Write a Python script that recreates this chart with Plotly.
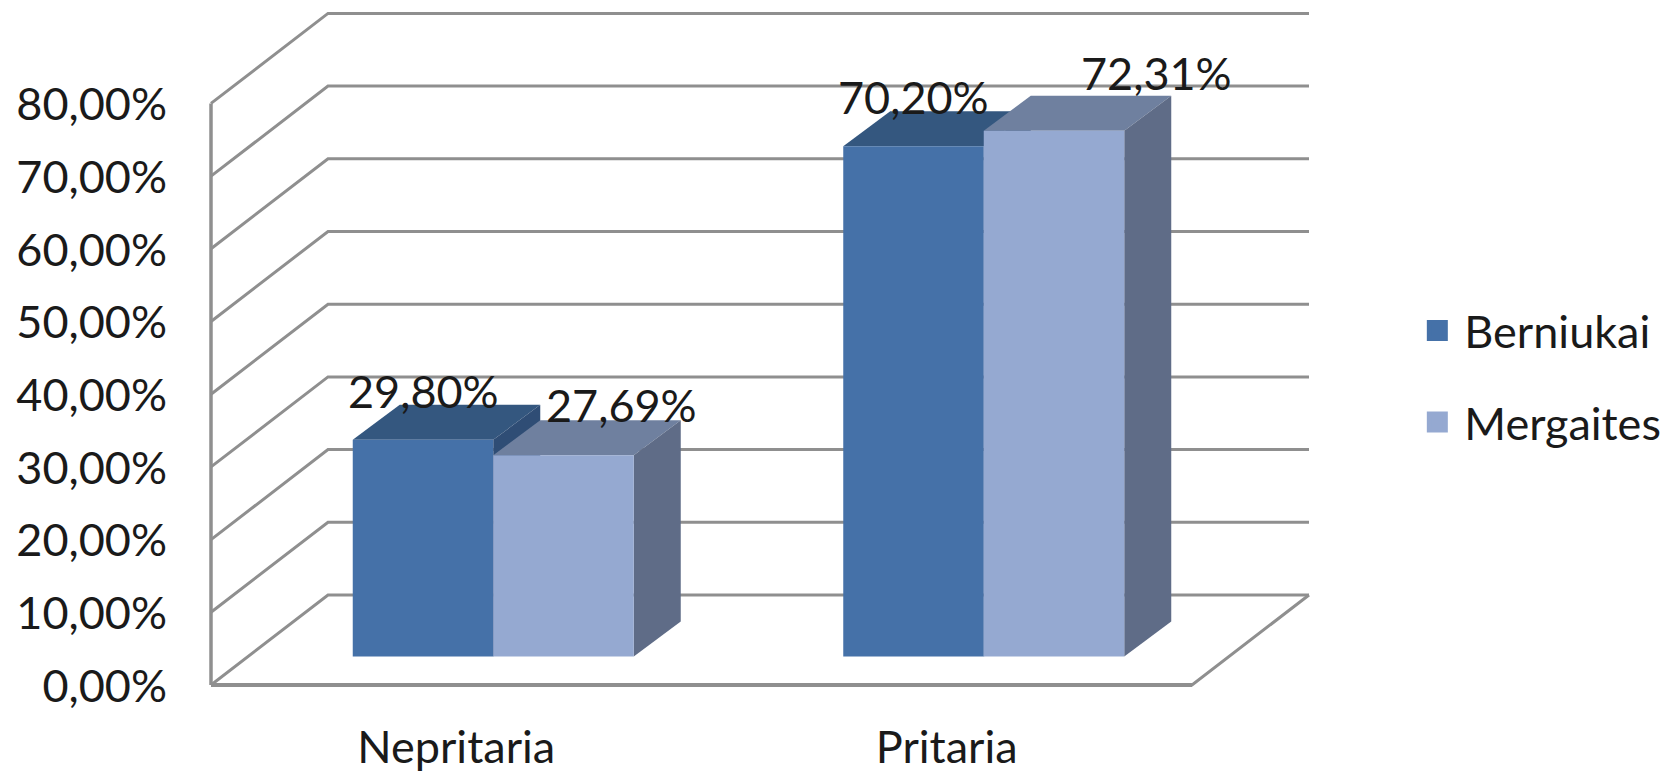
import plotly.graph_objects as go

categories = ["Nepritaria", "Pritaria"]
berniukai = [29.80, 70.20]
mergaites = [27.69, 72.31]
series_names = ["Berniukai", "Mergaites"]
axis_ticks = [0, 10, 20, 30, 40, 50, 60, 70, 80]
axis_labels = ["0,00%", "10,00%", "20,00%", "30,00%", "40,00%", "50,00%", "60,00%", "70,00%", "80,00%"]
labels_b = ["29,80%", "70,20%"]
labels_m = ["27,69%", "72,31%"]

W, H = 1672, 772
ORIGIN_X, ORIGIN_Y = 203, 677
PAD = 4
R, T = 1305, 2
CAT_PX = 490.5
PX_PER_PCT = 7.27
L, B = ORIGIN_X - PAD, ORIGIN_Y + PAD
X_MIN, X_MAX = -PAD / CAT_PX, (R - ORIGIN_X) / CAT_PX
Y_MIN, Y_MAX = -PAD / PX_PER_PCT, (ORIGIN_Y - T) / PX_PER_PCT
WALL_DX, WALL_DY = 117 / CAT_PX, 90 / PX_PER_PCT
WALL_END = 1098 / CAT_PX
BAR_DX, BAR_DY = 47 / CAT_PX, 35 / PX_PER_PCT
BAR_BASE = 28.5 / PX_PER_PCT
BAR_SHIFT = 37 / CAT_PX
BAR_W = 140.5 / CAT_PX
GRID = "#8f8f8f"
FONT = "Lato"
FS = 45
TEXT = "#1a1a1a"

front = ["#4571A8", "#95A9D1"]
top = ["#34577F", "#6F809F"]
side = ["#2F4D75", "#5F6C87"]
values = [berniukai, mergaites]
texts = [labels_b, labels_m]
label_dx = [[0, 0], [58, 102]]
label_dy = [[49, 49], [50, 58]]

fig = go.Figure()

# walls and floor
for v in axis_ticks:
    fig.add_trace(go.Scatter(x=[0, WALL_DX, WALL_END], y=[v, v + WALL_DY, v + WALL_DY], mode="lines",
                             line=dict(color=GRID, width=3), showlegend=False, hoverinfo="skip"))
fig.add_trace(go.Scatter(x=[0, 2, WALL_END], y=[0, 0, WALL_DY], mode="lines",
                         line=dict(color=GRID, width=3), showlegend=False, hoverinfo="skip"))
# left wall edge and front floor edge
fig.add_trace(go.Scatter(x=[0, 0], y=[0, axis_ticks[-1]], mode="lines", line=dict(color=GRID, width=3.5),
                         showlegend=False, hoverinfo="skip"))
fig.add_trace(go.Scatter(x=[0, 2], y=[0, 0], mode="lines", line=dict(color=GRID, width=4),
                         showlegend=False, hoverinfo="skip"))

centres = [i + 0.5 + BAR_SHIFT for i in range(len(categories))]

# top and side faces, built from the values
for c, cx in enumerate(centres):
    for s in range(2):
        x0 = cx - BAR_W + s * BAR_W
        x1 = x0 + BAR_W
        v = values[s][c] + BAR_BASE
        fig.add_trace(go.Scatter(x=[x0, x0 + BAR_DX, x1 + BAR_DX, x1, x0],
                                 y=[v, v + BAR_DY, v + BAR_DY, v, v],
                                 mode="lines", fill="toself", fillcolor=top[s], line=dict(width=0),
                                 showlegend=False, hoverinfo="skip"))
        fig.add_trace(go.Scatter(x=[x1, x1 + BAR_DX, x1 + BAR_DX, x1, x1],
                                 y=[v, v + BAR_DY, BAR_BASE + BAR_DY, BAR_BASE, v],
                                 mode="lines", fill="toself", fillcolor=side[s], line=dict(width=0),
                                 showlegend=False, hoverinfo="skip"))

# front faces on an overlaid axis pair, so they sit on top of the faces above
for s in range(2):
    fig.add_trace(go.Bar(x=centres, y=values[s], base=BAR_BASE, width=BAR_W,
                         offset=-BAR_W + s * BAR_W, marker=dict(color=front[s], line=dict(width=0)),
                         xaxis="x2", yaxis="y2", showlegend=False, name=series_names[s]))

# legend entries
for s in range(2):
    fig.add_trace(go.Scatter(x=[None], y=[None], mode="markers", name=series_names[s], legendgroup=series_names[s],
                             marker=dict(symbol="square", size=16, color=front[s], line=dict(color=front[s], width=5))))

annotations = []
for s in range(2):
    for c, cx in enumerate(centres):
        annotations.append(dict(x=cx - BAR_W / 2 + s * BAR_W, y=values[s][c] + BAR_BASE, text=texts[s][c],
                                xref="x2", yref="y2", showarrow=False, xshift=label_dx[s][c], yshift=label_dy[s][c],
                                font=dict(family=FONT, size=FS, color=TEXT)))

fig.update_layout(
    width=W, height=H, autosize=False,
    margin=dict(l=L, r=W - R, t=T, b=H - B, pad=0),
    paper_bgcolor="white", plot_bgcolor="white",
    barmode="overlay",
    font=dict(family=FONT, size=FS, color=TEXT),
    xaxis=dict(range=[X_MIN, X_MAX], tickvals=[i + 0.5 for i in range(len(categories))], ticktext=categories,
               showgrid=False, zeroline=False, showline=False, ticks="", ticklabelstandoff=28),
    yaxis=dict(range=[Y_MIN, Y_MAX], tickvals=axis_ticks, ticktext=axis_labels, showgrid=False, zeroline=False,
               showline=False, ticks="", ticklabelstandoff=39, ticklabelshift=1),
    xaxis2=dict(range=[X_MIN, X_MAX], overlaying="x", visible=False, fixedrange=True),
    yaxis2=dict(range=[Y_MIN, Y_MAX], overlaying="y", visible=False, fixedrange=True),
    legend=dict(x=1.088, y=0.4605, xanchor="left", yanchor="middle", tracegroupgap=30, itemwidth=44,
                bgcolor="rgba(0,0,0,0)", font=dict(family=FONT, size=FS, color=TEXT)),
    annotations=annotations,
    showlegend=True,
)

fig.write_html("out.html")
